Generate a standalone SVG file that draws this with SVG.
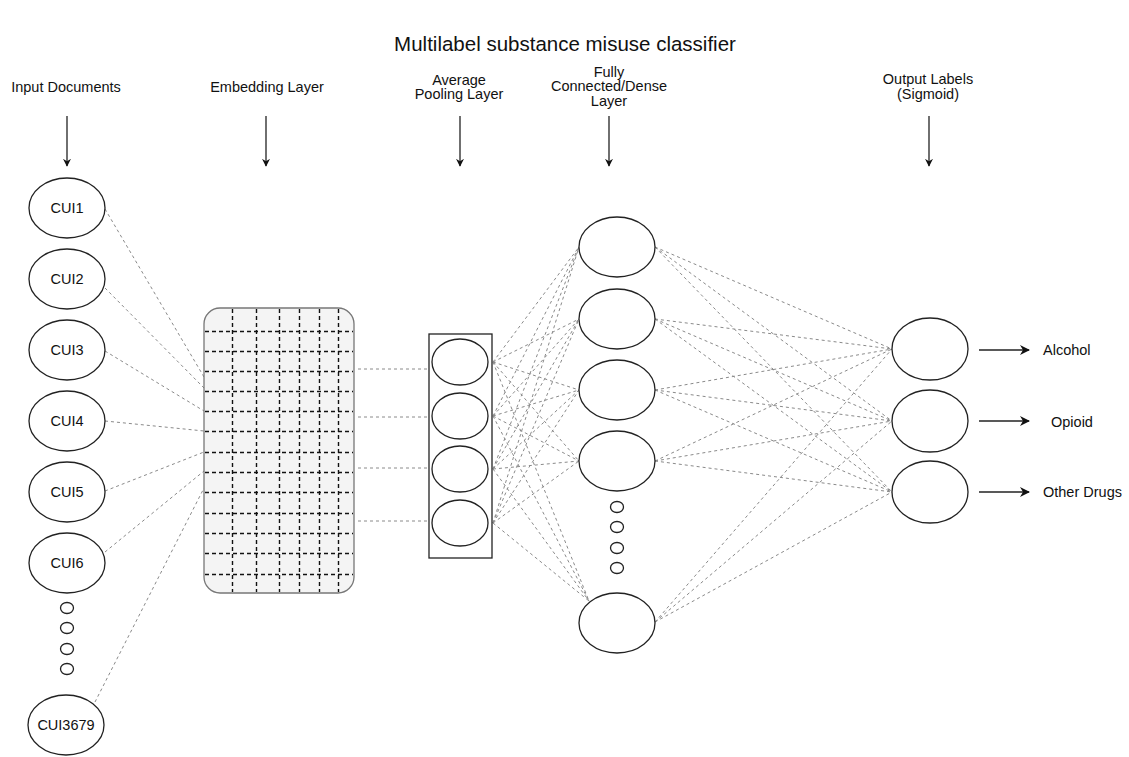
<svg xmlns="http://www.w3.org/2000/svg" width="1129" height="757" viewBox="0 0 1129 757">
<style>
text{font-family:"Liberation Sans",Arial,sans-serif;fill:#111;}
.t{font-size:14.5px;text-anchor:middle;}
.title{font-size:20.5px;text-anchor:middle;}
.n{fill:#fff;stroke:#222;stroke-width:1.3;}
.dl{stroke:#8a8a8a;stroke-width:1;stroke-dasharray:3 3;fill:none;}
.ar{stroke:#222;stroke-width:1.3;fill:none;marker-end:url(#ah);}
.ar2{stroke:#222;stroke-width:1.3;fill:none;marker-end:url(#ah2);}
.g{stroke:#111;stroke-width:1.4;stroke-dasharray:4 3;fill:none;}
</style>
<defs>
<marker id="ah" viewBox="0 0 10 10" refX="9" refY="5" markerWidth="8" markerHeight="8" markerUnits="userSpaceOnUse" orient="auto">
<path d="M0,0 L10,5 L0,10 L3,5 z" fill="#111"/>
</marker>
<marker id="ah2" viewBox="0 0 10 10" refX="9" refY="5" markerWidth="11" markerHeight="10" markerUnits="userSpaceOnUse" orient="auto">
<path d="M0,0 L10,5 L0,10 L3,5 z" fill="#111"/>
</marker>
</defs>
<rect width="1129" height="757" fill="#fff"/>
<text class="title" x="565" y="51">Multilabel substance misuse classifier</text>

<g id="headers">
<text class="t" x="66" y="92">Input Documents</text>
<text class="t" x="267" y="92">Embedding Layer</text>
<text class="t" x="459" y="85">Average</text>
<text class="t" x="459" y="99">Pooling Layer</text>
<text class="t" x="609" y="77">Fully</text>
<text class="t" x="609" y="91">Connected/Dense</text>
<text class="t" x="609" y="106">Layer</text>
<text class="t" x="928" y="84">Output Labels</text>
<text class="t" x="928" y="99">(Sigmoid)</text>
<line class="ar" x1="67" y1="116" x2="67" y2="166"/>
<line class="ar" x1="266" y1="116" x2="266" y2="166"/>
<line class="ar" x1="460" y1="116" x2="460" y2="166"/>
<line class="ar" x1="609" y1="116" x2="609" y2="166"/>
<line class="ar" x1="929" y1="116" x2="929" y2="166"/>
</g>

<g id="connectors">
<line class="dl" x1="105" y1="209" x2="204" y2="377"/>
<line class="dl" x1="105" y1="288" x2="204" y2="388"/>
<line class="dl" x1="105" y1="351" x2="204" y2="411"/>
<line class="dl" x1="105" y1="421" x2="204" y2="431"/>
<line class="dl" x1="105" y1="491" x2="204" y2="452"/>
<line class="dl" x1="105" y1="552" x2="204" y2="471"/>
<line class="dl" x1="95" y1="702" x2="204" y2="488"/>
<line class="dl" x1="358" y1="369" x2="429" y2="369"/>
<line class="dl" x1="358" y1="417" x2="429" y2="417"/>
<line class="dl" x1="358" y1="468" x2="429" y2="468"/>
<line class="dl" x1="358" y1="521" x2="429" y2="521"/>
<line class="dl" x1="493" y1="362" x2="579" y2="247"/>
<line class="dl" x1="493" y1="362" x2="579" y2="319"/>
<line class="dl" x1="493" y1="362" x2="579" y2="390"/>
<line class="dl" x1="493" y1="362" x2="579" y2="461"/>
<line class="dl" x1="493" y1="362" x2="589" y2="601"/>
<line class="dl" x1="493" y1="416" x2="579" y2="247"/>
<line class="dl" x1="493" y1="416" x2="579" y2="319"/>
<line class="dl" x1="493" y1="416" x2="579" y2="390"/>
<line class="dl" x1="493" y1="416" x2="579" y2="461"/>
<line class="dl" x1="493" y1="416" x2="589" y2="601"/>
<line class="dl" x1="493" y1="469" x2="579" y2="247"/>
<line class="dl" x1="493" y1="469" x2="579" y2="319"/>
<line class="dl" x1="493" y1="469" x2="579" y2="390"/>
<line class="dl" x1="493" y1="469" x2="579" y2="461"/>
<line class="dl" x1="493" y1="469" x2="589" y2="601"/>
<line class="dl" x1="493" y1="523" x2="579" y2="247"/>
<line class="dl" x1="493" y1="523" x2="579" y2="319"/>
<line class="dl" x1="493" y1="523" x2="579" y2="390"/>
<line class="dl" x1="493" y1="523" x2="579" y2="461"/>
<line class="dl" x1="493" y1="523" x2="589" y2="601"/>
<line class="dl" x1="655" y1="247" x2="892" y2="349"/>
<line class="dl" x1="655" y1="247" x2="892" y2="421"/>
<line class="dl" x1="655" y1="247" x2="892" y2="492"/>
<line class="dl" x1="655" y1="319" x2="892" y2="349"/>
<line class="dl" x1="655" y1="319" x2="892" y2="421"/>
<line class="dl" x1="655" y1="319" x2="892" y2="492"/>
<line class="dl" x1="655" y1="390" x2="892" y2="349"/>
<line class="dl" x1="655" y1="390" x2="892" y2="421"/>
<line class="dl" x1="655" y1="390" x2="892" y2="492"/>
<line class="dl" x1="655" y1="461" x2="892" y2="349"/>
<line class="dl" x1="655" y1="461" x2="892" y2="421"/>
<line class="dl" x1="655" y1="461" x2="892" y2="492"/>
<line class="dl" x1="655" y1="622" x2="892" y2="349"/>
<line class="dl" x1="655" y1="622" x2="892" y2="421"/>
<line class="dl" x1="655" y1="622" x2="892" y2="492"/>
<line class="ar2" x1="979" y1="350" x2="1029" y2="350"/>
<line class="ar2" x1="979" y1="421" x2="1029" y2="421"/>
<line class="ar2" x1="979" y1="492" x2="1029" y2="492"/>
</g>

<g id="cui1"><ellipse class="n" cx="67" cy="208" rx="38" ry="30"/><text class="t" x="67" y="213">CUI1</text></g>
<g id="cui2"><ellipse class="n" cx="67" cy="279" rx="38" ry="30"/><text class="t" x="67" y="284">CUI2</text></g>
<g id="cui3"><ellipse class="n" cx="67" cy="350" rx="38" ry="30"/><text class="t" x="67" y="355">CUI3</text></g>
<g id="cui4"><ellipse class="n" cx="67" cy="421" rx="38" ry="30"/><text class="t" x="67" y="426">CUI4</text></g>
<g id="cui5"><ellipse class="n" cx="67" cy="492" rx="38" ry="30"/><text class="t" x="67" y="497">CUI5</text></g>
<g id="cui6"><ellipse class="n" cx="67" cy="563" rx="38" ry="30"/><text class="t" x="67" y="568">CUI6</text></g>
<g id="cui-dots">
<ellipse class="n" cx="67" cy="608" rx="6.5" ry="5.5"/>
<ellipse class="n" cx="67" cy="628" rx="6.5" ry="5.5"/>
<ellipse class="n" cx="67" cy="649" rx="6.5" ry="5.5"/>
<ellipse class="n" cx="67" cy="669" rx="6.5" ry="5.5"/>
</g>
<g id="cui3679"><ellipse class="n" cx="66" cy="725" rx="38" ry="30"/><text class="t" x="66" y="730">CUI3679</text></g>

<g id="embedding">
<rect x="204" y="308" width="150" height="285" rx="16" ry="16" fill="#f4f4f4" stroke="#777" stroke-width="1.3"/>
<line class="g" x1="232.5" y1="309" x2="232.5" y2="592"/>
<line class="g" x1="256.5" y1="309" x2="256.5" y2="592"/>
<line class="g" x1="279.5" y1="309" x2="279.5" y2="592"/>
<line class="g" x1="299.5" y1="309" x2="299.5" y2="592"/>
<line class="g" x1="319.5" y1="309" x2="319.5" y2="592"/>
<line class="g" x1="338.5" y1="309" x2="338.5" y2="592"/>
<line class="g" x1="205" y1="331.5" x2="353" y2="331.5"/>
<line class="g" x1="205" y1="351.5" x2="353" y2="351.5"/>
<line class="g" x1="205" y1="371.5" x2="353" y2="371.5"/>
<line class="g" x1="205" y1="391.5" x2="353" y2="391.5"/>
<line class="g" x1="205" y1="411.5" x2="353" y2="411.5"/>
<line class="g" x1="205" y1="431.5" x2="353" y2="431.5"/>
<line class="g" x1="205" y1="452.5" x2="353" y2="452.5"/>
<line class="g" x1="205" y1="472.5" x2="353" y2="472.5"/>
<line class="g" x1="205" y1="492.5" x2="353" y2="492.5"/>
<line class="g" x1="205" y1="513.5" x2="353" y2="513.5"/>
<line class="g" x1="205" y1="533.5" x2="353" y2="533.5"/>
<line class="g" x1="205" y1="553.5" x2="353" y2="553.5"/>
<line class="g" x1="205" y1="574.5" x2="353" y2="574.5"/>
</g>

<g id="pooling">
<rect x="429" y="334" width="63" height="224" fill="none" stroke="#222" stroke-width="1.3"/>
<ellipse class="n" cx="460" cy="362" rx="28" ry="23"/>
<ellipse class="n" cx="460" cy="416" rx="28" ry="23"/>
<ellipse class="n" cx="460" cy="469" rx="28" ry="23"/>
<ellipse class="n" cx="460" cy="523" rx="28" ry="23"/>
</g>

<g id="dense">
<ellipse class="n" cx="617" cy="247" rx="38" ry="30"/>
<ellipse class="n" cx="617" cy="319" rx="38" ry="30"/>
<ellipse class="n" cx="617" cy="390" rx="38" ry="30"/>
<ellipse class="n" cx="617" cy="461" rx="38" ry="30"/>
<ellipse class="n" cx="617" cy="507" rx="6.5" ry="5.5"/>
<ellipse class="n" cx="617" cy="527" rx="6.5" ry="5.5"/>
<ellipse class="n" cx="617" cy="548" rx="6.5" ry="5.5"/>
<ellipse class="n" cx="617" cy="568" rx="6.5" ry="5.5"/>
<ellipse class="n" cx="617" cy="623" rx="38" ry="30"/>
</g>

<g id="out-alcohol"><ellipse class="n" cx="930" cy="349" rx="38" ry="31"/><text x="1043" y="355" style="font-size:14.5px">Alcohol</text></g>
<g id="out-opioid"><ellipse class="n" cx="930" cy="421" rx="38" ry="31"/><text x="1051" y="427" style="font-size:14.5px">Opioid</text></g>
<g id="out-other"><ellipse class="n" cx="930" cy="492" rx="38" ry="31"/><text x="1043" y="497" style="font-size:14.5px">Other Drugs</text></g>
</svg>
